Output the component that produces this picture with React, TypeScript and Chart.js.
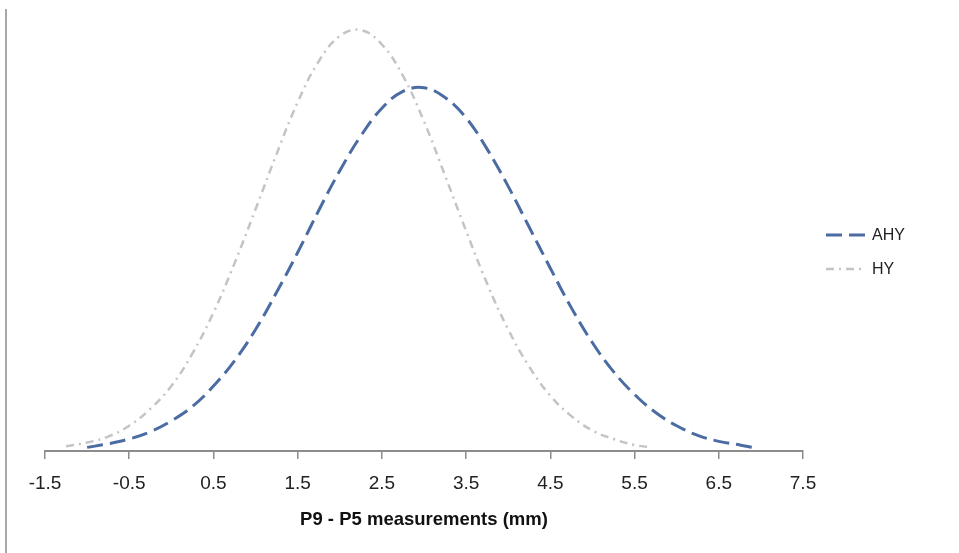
import React, { useEffect, useRef } from "react";
import { Chart, registerables } from "chart.js";

Chart.register(...registerables);

const seriesNames = ["AHY", "HY"];

const ahyX = [-1.0, -0.75, -0.5, -0.25, 0, 0.25, 0.5, 0.75, 1.0, 1.25, 1.5, 1.75, 2.0, 2.25, 2.5, 2.75, 3.0, 3.25, 3.5, 3.75, 4.0, 4.25, 4.5, 4.75, 5.0, 5.25, 5.5, 5.75, 6.0, 6.25, 6.5, 6.75, 6.9];
const ahyY = [0.003, 0.006, 0.010, 0.016, 0.025, 0.037, 0.054, 0.075, 0.101, 0.132, 0.165, 0.200, 0.233, 0.262, 0.285, 0.299, 0.302, 0.294, 0.277, 0.251, 0.220, 0.186, 0.152, 0.119, 0.090, 0.066, 0.047, 0.032, 0.021, 0.013, 0.008, 0.005, 0.003];

const hyX = [-1.25, -1.0, -0.75, -0.5, -0.25, 0, 0.25, 0.5, 0.75, 1.0, 1.25, 1.5, 1.75, 2.0, 2.25, 2.5, 2.75, 3.0, 3.25, 3.5, 3.75, 4.0, 4.25, 4.5, 4.75, 5.0, 5.25, 5.5, 5.7];
const hyY = [0.004, 0.007, 0.012, 0.021, 0.035, 0.054, 0.081, 0.115, 0.156, 0.201, 0.247, 0.290, 0.324, 0.345, 0.350, 0.338, 0.312, 0.274, 0.229, 0.183, 0.139, 0.101, 0.070, 0.046, 0.029, 0.017, 0.010, 0.005, 0.003];

const tickValues = [-1.5, -0.5, 0.5, 1.5, 2.5, 3.5, 4.5, 5.5, 6.5, 7.5];
const tickLabels = ["-1.5", "-0.5", "0.5", "1.5", "2.5", "3.5", "4.5", "5.5", "6.5", "7.5"];
const xTitle = "P9 - P5 measurements (mm)";

const FONT = "'Liberation Sans', Arial, sans-serif";

const legendPlugin = {
  id: "customLegend",
  afterDraw(chart: any) {
    const ctx = chart.ctx;
    const rows = [235, 269];
    chart.data.datasets.forEach((ds: any, i: number) => {
      const y = rows[i];
      ctx.save();
      ctx.strokeStyle = ds.borderColor;
      ctx.lineWidth = ds.borderWidth;
      ctx.setLineDash(ds.borderDash || []);
      ctx.beginPath();
      ctx.moveTo(826, y);
      ctx.lineTo(865, y);
      ctx.stroke();
      ctx.setLineDash([]);
      ctx.fillStyle = "#222";
      ctx.font = "16px " + FONT;
      ctx.textBaseline = "middle";
      ctx.textAlign = "left";
      ctx.fillText(ds.label, 872, y + 1);
      ctx.restore();
    });
  },
};

export default function App() {
  const ref = useRef<HTMLCanvasElement | null>(null);

  useEffect(() => {
    if (!ref.current) return;
    const chart = new Chart(ref.current, {
      type: "line",
      data: {
        datasets: [
          {
            label: seriesNames[0],
            data: ahyX.map((x, i) => ({ x, y: ahyY[i] })),
            borderColor: "#4a6ca2",
            borderWidth: 3,
            borderDash: [16, 7],
            pointRadius: 0,
            fill: false,
            tension: 0.4,
          },
          {
            label: seriesNames[1],
            data: hyX.map((x, i) => ({ x, y: hyY[i] })),
            borderColor: "#c4c4c4",
            borderWidth: 2.5,
            borderDash: [8, 5, 2, 5],
            pointRadius: 0,
            fill: false,
            tension: 0.4,
          },
        ],
      },
      options: {
        responsive: false,
        animation: false,
        layout: { padding: { left: 45, right: 156, top: 6, bottom: 18 } },
        plugins: { legend: { display: false }, tooltip: { enabled: false } },
        scales: {
          x: {
            type: "linear",
            min: -1.5,
            max: 7.5,
            afterBuildTicks(scale: any) {
              scale.ticks = tickValues.map((v) => ({ value: v }));
            },
            grid: {
              drawOnChartArea: false,
              drawTicks: true,
              tickLength: 8,
              color: "#8c8c8c",
              lineWidth: 1.5,
            },
            border: { display: true, color: "#8c8c8c", width: 2 },
            ticks: {
              autoSkip: false,
              maxRotation: 0,
              padding: 13,
              color: "#222",
              font: { family: FONT, size: 19 },
              callback: (v: any) => {
                const idx = tickValues.indexOf(Number(v));
                return idx >= 0 ? tickLabels[idx] : "";
              },
            },
            title: {
              display: true,
              text: xTitle,
              color: "#111",
              font: { family: FONT, size: 18.5, weight: "bold" },
              padding: { top: 1, bottom: 4 },
            },
          },
          y: {
            display: false,
            min: 0,
            max: 0.37,
          },
        },
      },
      plugins: [legendPlugin],
    });
    return () => chart.destroy();
  }, []);

  return (
    <div style={{ position: "absolute", left: 0, top: 0, width: 959, height: 553, background: "#fff" }}>
      <div style={{ position: "absolute", left: 5, top: 9, width: 0, height: 544, borderLeft: "2px solid #a8a8a8" }} />
      <canvas ref={ref} width={959} height={553} style={{ position: "absolute", left: 0, top: 0 }} />
    </div>
  );
}
